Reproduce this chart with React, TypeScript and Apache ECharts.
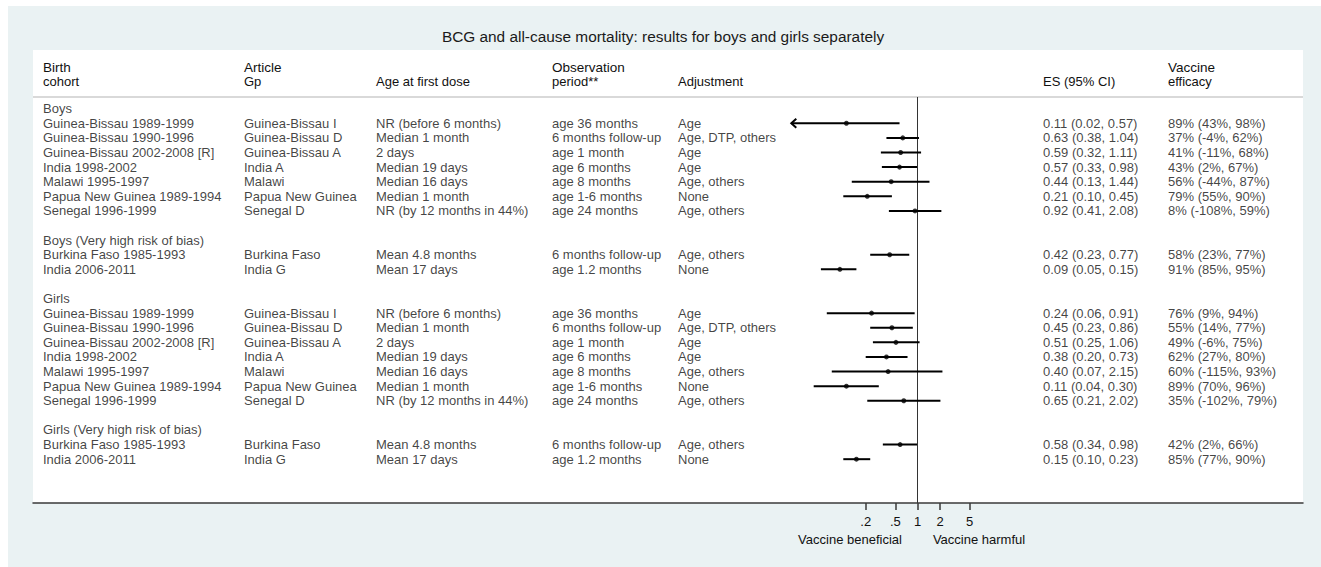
import React, { useEffect, useRef } from "react";
import * as echarts from "echarts";

// ---------------- data ----------------
const TITLE = "BCG and all-cause mortality: results for boys and girls separately";

const groupLabels = [
  "Boys",
  "Boys (Very high risk of bias)",
  "Girls",
  "Girls (Very high risk of bias)",
];

const studyGroup = [0, 0, 0, 0, 0, 0, 0, 1, 1, 2, 2, 2, 2, 2, 2, 2, 3, 3];

const cohorts = [
  "Guinea-Bissau 1989-1999",
  "Guinea-Bissau 1990-1996",
  "Guinea-Bissau 2002-2008 [R]",
  "India 1998-2002",
  "Malawi 1995-1997",
  "Papua New Guinea 1989-1994",
  "Senegal 1996-1999",
  "Burkina Faso 1985-1993",
  "India 2006-2011",
  "Guinea-Bissau 1989-1999",
  "Guinea-Bissau 1990-1996",
  "Guinea-Bissau 2002-2008 [R]",
  "India 1998-2002",
  "Malawi 1995-1997",
  "Papua New Guinea 1989-1994",
  "Senegal 1996-1999",
  "Burkina Faso 1985-1993",
  "India 2006-2011",
];

const articleGp = [
  "Guinea-Bissau I",
  "Guinea-Bissau D",
  "Guinea-Bissau A",
  "India A",
  "Malawi",
  "Papua New Guinea",
  "Senegal D",
  "Burkina Faso",
  "India G",
  "Guinea-Bissau I",
  "Guinea-Bissau D",
  "Guinea-Bissau A",
  "India A",
  "Malawi",
  "Papua New Guinea",
  "Senegal D",
  "Burkina Faso",
  "India G",
];

const ageFirstDose = [
  "NR (before 6 months)",
  "Median 1 month",
  "2 days",
  "Median 19 days",
  "Median 16 days",
  "Median 1 month",
  "NR (by 12 months in 44%)",
  "Mean 4.8 months",
  "Mean 17 days",
  "NR (before 6 months)",
  "Median 1 month",
  "2 days",
  "Median 19 days",
  "Median 16 days",
  "Median 1 month",
  "NR (by 12 months in 44%)",
  "Mean 4.8 months",
  "Mean 17 days",
];

const observationPeriod = [
  "age 36 months",
  "6 months follow-up",
  "age 1 month",
  "age 6 months",
  "age 8 months",
  "age 1-6 months",
  "age 24 months",
  "6 months follow-up",
  "age 1.2 months",
  "age 36 months",
  "6 months follow-up",
  "age 1 month",
  "age 6 months",
  "age 8 months",
  "age 1-6 months",
  "age 24 months",
  "6 months follow-up",
  "age 1.2 months",
];

const adjustment = [
  "Age",
  "Age, DTP, others",
  "Age",
  "Age",
  "Age, others",
  "None",
  "Age, others",
  "Age, others",
  "None",
  "Age",
  "Age, DTP, others",
  "Age",
  "Age",
  "Age, others",
  "None",
  "Age, others",
  "Age, others",
  "None",
];

const es = [0.11, 0.63, 0.59, 0.57, 0.44, 0.21, 0.92, 0.42, 0.09, 0.24, 0.45, 0.51, 0.38, 0.4, 0.11, 0.65, 0.58, 0.15];
const ciLow = [0.02, 0.38, 0.32, 0.33, 0.13, 0.1, 0.41, 0.23, 0.05, 0.06, 0.23, 0.25, 0.2, 0.07, 0.04, 0.21, 0.34, 0.1];
const ciHigh = [0.57, 1.04, 1.11, 0.98, 1.44, 0.45, 2.08, 0.77, 0.15, 0.91, 0.86, 1.06, 0.73, 2.15, 0.3, 2.02, 0.98, 0.23];

const efficacy = [
  "89% (43%, 98%)",
  "37% (-4%, 62%)",
  "41% (-11%, 68%)",
  "43% (2%, 67%)",
  "56% (-44%, 87%)",
  "79% (55%, 90%)",
  "8% (-108%, 59%)",
  "58% (23%, 77%)",
  "91% (85%, 95%)",
  "76% (9%, 94%)",
  "55% (14%, 77%)",
  "49% (-6%, 75%)",
  "62% (27%, 80%)",
  "60% (-115%, 93%)",
  "89% (70%, 96%)",
  "35% (-102%, 79%)",
  "42% (2%, 66%)",
  "85% (77%, 90%)",
];

const headerLine1 = ["Birth", "Article", "", "Observation", "", "", "Vaccine"];
const headerLine2 = ["cohort", "Gp", "Age at first dose", "period**", "Adjustment", "ES (95% CI)", "efficacy"];

const axisTickValues = [0.2, 0.5, 1, 2, 5];
const axisTickLabels = [".2", ".5", "1", "2", "5"];
const footerLabels = ["Vaccine beneficial", "Vaccine harmful"];

// ---------------- layout ----------------
const FONT = '"Liberation Sans", Arial, Helvetica, sans-serif';
const TXT = "#111111";
const W = 1321;
const H = 567;
const PANEL_L = 33;
const PANEL_R = 1303;
const PANEL_T = 50;
const GRID_T = 97;
const AXIS_Y = 503;
const GRID_B = H - AXIS_Y;
const colX = [43, 244, 376, 552, 678, 1043, 1168];
const colFont = [13, 13, 13, 13, 13, 13, 13];
const X_ONE = 917.7;
const PX_PER_DECADE = 74.4;
const X_MIN = 0.02;
const X_MAX = 10;
const ROW_MIN = -0.8;
const ROW_MAX = 27;

const fmt2 = (v: number) => v.toFixed(2);

export default function App() {
  const ref = useRef<HTMLDivElement>(null);

  useEffect(() => {
    if (!ref.current) return;
    const chart = echarts.init(ref.current, undefined, { renderer: "svg" });

    // row layout
    const rowOfGroup: number[] = [];
    const rowOfStudy: number[] = [];
    let r = 0;
    groupLabels.forEach((_, gi) => {
      rowOfGroup.push(r);
      r++;
      studyGroup.forEach((sg, i) => {
        if (sg === gi) {
          rowOfStudy[i] = r;
          r++;
        }
      });
      r++;
    });

    const esText = es.map((e, i) => `${fmt2(e)} (${fmt2(ciLow[i])}, ${fmt2(ciHigh[i])})`);
    const columns: string[][] = [cohorts, articleGp, ageFirstDose, observationPeriod, adjustment, esText, efficacy];

    const textSeries: any[] = columns.map((col, c) => {
      const data: any[] = col.map((t, i) => [colX[c] - PANEL_L, rowOfStudy[i], t]);
      if (c === 0) {
        groupLabels.forEach((g, gi) => data.push([colX[c] - PANEL_L, rowOfGroup[gi], g]));
      }
      return {
        type: "scatter",
        xAxisIndex: 0,
        yAxisIndex: 0,
        symbolSize: 0,
        silent: true,
        data,
        label: {
          show: true,
          position: "right",
          distance: 0,
          formatter: (p: any) => p.value[2],
          fontSize: colFont[c],
          fontFamily: FONT,
          color: TXT,
        },
        z: 10,
      };
    });

    const gridLeft = X_ONE + PX_PER_DECADE * Math.log10(X_MIN);
    const gridWidth = PX_PER_DECADE * (Math.log10(X_MAX) - Math.log10(X_MIN));

    const ciData = es.map((e, i) => [e, ciLow[i], ciHigh[i], rowOfStudy[i]]);
    const pointData = es.map((e, i) => [e, rowOfStudy[i]]);

    const graphics: any[] = [
      { type: "rect", z: -10, shape: { x: 8, y: 6, width: W - 8, height: H - 6 }, style: { fill: "#eaf2f3" } },
      {
        type: "rect",
        z: -9,
        shape: { x: PANEL_L, y: PANEL_T, width: PANEL_R - PANEL_L, height: AXIS_Y - PANEL_T },
        style: { fill: "#ffffff" },
      },
      {
        type: "line",
        z: -8,
        shape: { x1: PANEL_L, y1: GRID_T, x2: PANEL_R, y2: GRID_T },
        style: { stroke: "#d9d9d9", lineWidth: 2 },
      },
    ];
    headerLine1.forEach((t, c) => {
      if (!t) return;
      graphics.push({
        type: "text",
        x: colX[c],
        y: 67,
        style: { text: t, fontSize: 13.5, fontFamily: FONT, fill: TXT, align: "left", verticalAlign: "middle" },
      });
    });
    headerLine2.forEach((t, c) => {
      graphics.push({
        type: "text",
        x: colX[c],
        y: 81,
        style: {
          text: t,
          fontSize: 13,
          fontFamily: FONT,
          fill: TXT,
          align: "left",
          verticalAlign: "middle",
        },
      });
    });
    graphics.push({
      type: "text",
      x: 850,
      y: 539,
      style: { text: footerLabels[0], fontSize: 13, fontFamily: FONT, fill: TXT, align: "center", verticalAlign: "middle" },
    });
    graphics.push({
      type: "text",
      x: 979,
      y: 539,
      style: { text: footerLabels[1], fontSize: 13, fontFamily: FONT, fill: TXT, align: "center", verticalAlign: "middle" },
    });

    const option: any = {
      animation: false,
      backgroundColor: "#ffffff",
      title: {
        text: TITLE,
        left: 663,
        top: 29,
        textAlign: "center",
        padding: 0,
        textStyle: { fontSize: 15.4, fontWeight: "normal", fontFamily: FONT, color: "#1a1a1a" },
      },
      graphic: { elements: graphics },
      grid: [
        { left: PANEL_L, width: PANEL_R - PANEL_L, top: GRID_T, bottom: GRID_B, containLabel: false },
        { left: gridLeft, width: gridWidth, top: GRID_T, bottom: GRID_B, containLabel: false },
      ],
      xAxis: [
        {
          gridIndex: 0,
          type: "value",
          min: 0,
          max: PANEL_R - PANEL_L,
          z: 5,
          axisLine: { show: true, onZero: false, lineStyle: { color: "#3a3a3a", width: 1.5 } },
          axisTick: { show: false },
          axisLabel: { show: false },
          splitLine: { show: false },
        },
        {
          gridIndex: 1,
          type: "log",
          logBase: 10,
          min: X_MIN,
          max: X_MAX,
          z: 5,
          axisLine: { show: false, onZero: false },
          axisTick: {
            show: true,
            customValues: axisTickValues,
            length: 7,
            lineStyle: { color: "#3a3a3a", width: 1.5 },
          },
          axisLabel: {
            show: true,
            customValues: axisTickValues,
            margin: 12,
            fontSize: 13,
            fontFamily: FONT,
            color: TXT,
            formatter: (v: number) => {
              const idx = axisTickValues.findIndex((t) => Math.abs(t - v) < 1e-9);
              return idx >= 0 ? axisTickLabels[idx] : "";
            },
          },
          splitLine: { show: false },
        },
      ],
      yAxis: [
        { gridIndex: 0, type: "value", min: ROW_MIN, max: ROW_MAX, inverse: true, show: false },
        { gridIndex: 1, type: "value", min: ROW_MIN, max: ROW_MAX, inverse: true, show: false },
      ],
      series: [
        ...textSeries,
        {
          type: "custom",
          xAxisIndex: 1,
          yAxisIndex: 1,
          silent: true,
          z: 8,
          encode: { x: [0, 1, 2], y: 3 },
          data: ciData,
          renderItem: (_params: any, api: any) => {
            const lo = api.value(1) as number;
            const hi = api.value(2) as number;
            const row = api.value(3) as number;
            const clippedLo = lo <= X_MIN;
            const a = api.coord([Math.max(lo, X_MIN), row]);
            const b = api.coord([Math.min(hi, X_MAX), row]);
            const children: any[] = [
              {
                type: "line",
                shape: { x1: a[0], y1: a[1], x2: b[0], y2: b[1] },
                style: { stroke: "#000000", lineWidth: 2 },
              },
            ];
            if (clippedLo) {
              children.push({
                type: "polyline",
                shape: {
                  points: [
                    [a[0] + 5, a[1] - 4.5],
                    [a[0], a[1]],
                    [a[0] + 5, a[1] + 4.5],
                  ],
                },
                style: { stroke: "#000000", lineWidth: 2, fill: "none" },
              });
            }
            return { type: "group", children };
          },
        },
        {
          type: "scatter",
          xAxisIndex: 1,
          yAxisIndex: 1,
          silent: true,
          z: 9,
          symbol: "circle",
          symbolSize: 5,
          itemStyle: { color: "#000000" },
          data: pointData,
          markLine: {
            silent: true,
            symbol: ["none", "none"],
            label: { show: false },
            lineStyle: { color: "#333333", width: 1, type: "solid" },
            data: [{ xAxis: 1 }],
          },
        },
      ],
    };

    chart.setOption(option);
    return () => {
      chart.dispose();
    };
  }, []);

  return (
    <div
      ref={ref}
      style={{ position: "absolute", left: 0, top: 0, width: W, height: H }}
    />
  );
}
